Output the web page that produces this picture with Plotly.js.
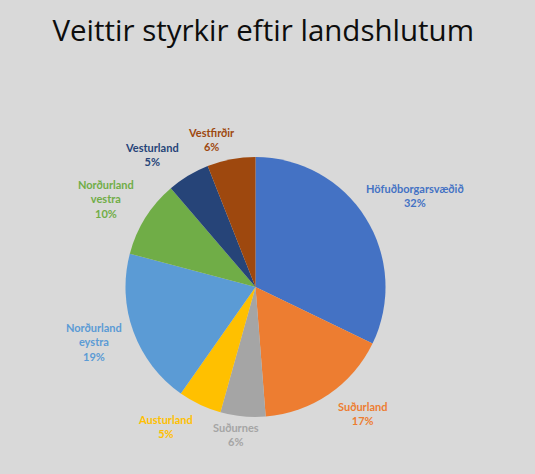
<!DOCTYPE html>
<html>
<head>
<meta charset="utf-8">
<script src="https://cdn.plot.ly/plotly-3.0.1.min.js"></script>
<style>html,body{margin:0;padding:0;background:#D9D9D9;}#chart{width:535px;height:474px;}</style>
</head>
<body>
<div id="chart"></div>
<script>
const regions = ["Höfuðborgarsvæðið", "Suðurland", "Suðurnes", "Austurland", "Norðurland eystra", "Norðurland vestra", "Vesturland", "Vestfirðir"];
const labelLines = ["Höfuðborgarsvæðið", "Suðurland", "Suðurnes", "Austurland", "Norðurland<br>eystra", "Norðurland<br>vestra", "Vesturland", "Vestfirðir"];
const shares = [32.2, 16.6, 5.6, 5.4, 19.4, 9.6, 5.3, 6.0];
const colors = ["#4472C4", "#ED7D31", "#A5A5A5", "#FFC000", "#5B9BD5", "#70AD47", "#264478", "#9E480E"];
// pixel nudges for label placement (style only)
const labelNudgeX = [15, 11, -3, -17, -2, -5, -16, -12];
const labelNudgeY = [-1, -14, -22, -14, -3, 2, 13, 19];

const W = 535, H = 474;
const cx = 255.5, cy = 287, R = 130;
const labelR = 170;

const total = shares.reduce((a, b) => a + b, 0);
const annotations = [];
let cum = 0;
shares.forEach((v, i) => {
  const mid = (cum + v / 2) / total * 2 * Math.PI;
  cum += v;
  const px = cx + labelR * Math.sin(mid) + labelNudgeX[i];
  const py = cy - labelR * Math.cos(mid) + labelNudgeY[i];
  annotations.push({
    x: px / W, y: 1 - py / H, xref: 'paper', yref: 'paper',
    text: '<b>' + labelLines[i] + '<br>' + Math.round(v / total * 100) + '%</b>',
    showarrow: false, xanchor: 'center', yanchor: 'middle',
    font: {family: 'Lato, "Open Sans", sans-serif', size: 11, color: colors[i]}
  });
});

const data = [{
  type: 'pie',
  labels: regions,
  values: shares,
  sort: false,
  direction: 'clockwise',
  rotation: 0,
  marker: {colors: colors, line: {width: 0}},
  textinfo: 'none',
  hoverinfo: 'label+percent',
  domain: {x: [(cx - R) / W, (cx + R) / W], y: [1 - (cy + R) / H, 1 - (cy - R) / H]}
}];

const layout = {
  width: W, height: H,
  margin: {l: 0, r: 0, t: 0, b: 0},
  paper_bgcolor: '#D9D9D9',
  plot_bgcolor: '#D9D9D9',
  showlegend: false,
  title: {
    text: 'Veittir styrkir eftir landshlutum',
    x: 0.492, xanchor: 'center', y: 1 - 31 / H, yanchor: 'middle',
    font: {family: '"Open Sans", sans-serif', size: 29.5, weight: 500, color: '#0D0D0D'}
  },
  annotations: annotations
};

Plotly.newPlot('chart', data, layout, {displayModeBar: false, staticPlot: true});
</script>
</body>
</html>
